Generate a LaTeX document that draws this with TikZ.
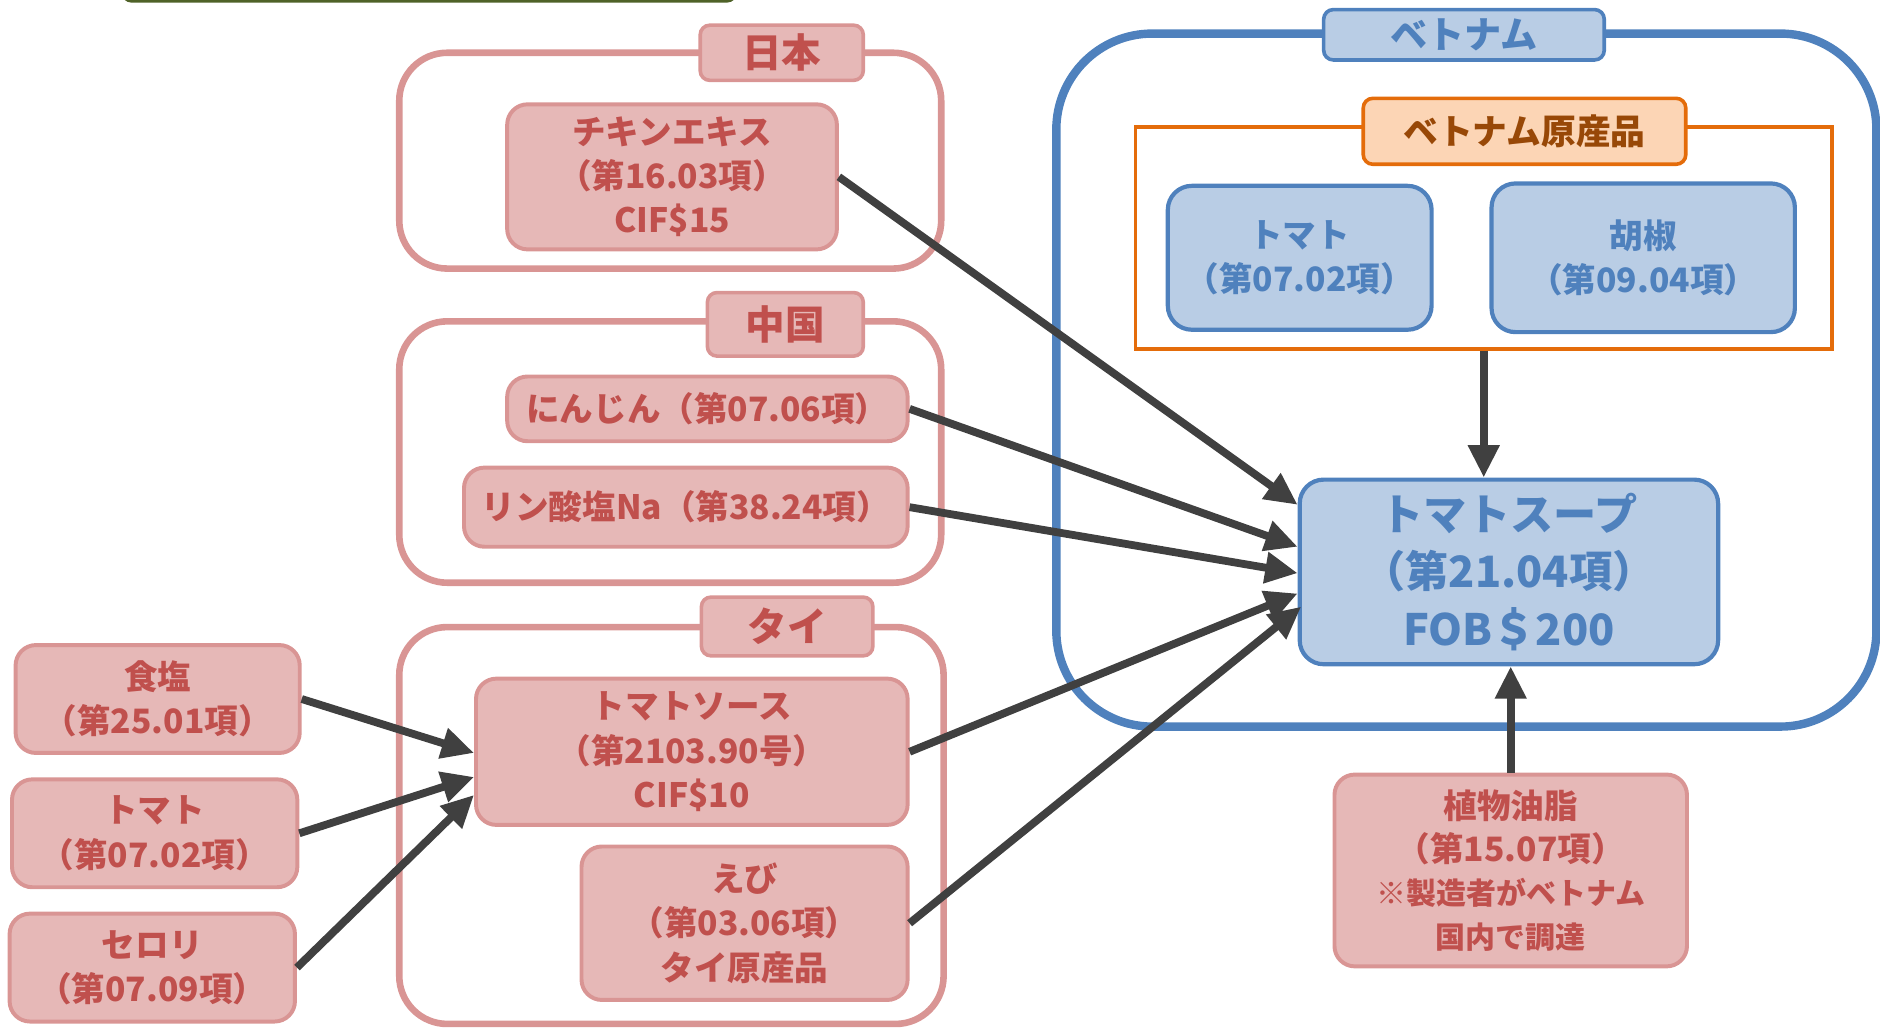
\documentclass[tikz,border=0pt]{standalone}
\usepackage{fontspec}
\setmainfont{Noto Sans CJK JP}
\usepackage{tikz}
\usepackage{xcolor}
\usetikzlibrary{
    arrows.meta,
    calc,
    positioning
}
\definecolor{pkln}{HTML}{D99594}
\definecolor{pkfl}{HTML}{E6B8B7}
\definecolor{pktx}{HTML}{C0504D}
\definecolor{blln}{HTML}{4F81BD}
\definecolor{blfl}{HTML}{B9CDE5}
\definecolor{orln}{HTML}{E46C0A}
\definecolor{orfl}{HTML}{FCD5B5}
\definecolor{ortx}{HTML}{984807}
\definecolor{grln}{HTML}{4F6228}
\definecolor{arln}{HTML}{404040}
\tikzset{
    pkbx/.style={draw=pkln, fill=pkfl, text=pktx, line width=3.3pt, rounded corners=17pt, align=center, inner sep=0pt, font=\bfseries\fontsize{28}{37}\selectfont},
    blbx/.style={draw=blln, fill=blfl, text=blln, line width=3.5pt, rounded corners=20pt, align=center, inner sep=0pt, font=\bfseries\fontsize{28}{37}\selectfont},
    pktg/.style={draw=pkln, fill=pkfl, text=pktx, line width=3pt, rounded corners=8pt, inner sep=0pt, font=\bfseries\fontsize{33}{36}\selectfont},
    bltg/.style={pktg, draw=blln, fill=blfl, text=blln, font=\bfseries\fontsize{31}{34}\selectfont},
    ortg/.style={pktg, draw=orln, fill=orfl, text=ortx, font=\bfseries\fontsize{29}{32}\selectfont},
    pkgrp/.style={draw=pkln, line width=5.5pt, rounded corners=40pt},
    arr/.style={draw=arln, line width=6.5pt, -{Triangle[length=27pt, width=25pt]}}
}

\begin{document}
\begin{tikzpicture}[x=1pt, y=1pt]
    \useasboundingbox (0, 0) rectangle (1568, -857);
    \draw[grln, line width=2.5pt, rounded corners=8pt] (102, 30) rectangle (614, -1);

    % groups
    \draw[pkgrp] (333, -44) rectangle (785, -224);
    \draw[pkgrp] (333, -268) rectangle (785, -486);
    \draw[pkgrp] (333, -523) rectangle (787, -854);
    \draw[blln, line width=7pt, rounded corners=80pt] (881, -28) rectangle (1565, -606);
    \node[draw=orln, line width=3pt, minimum width=581pt, minimum height=185pt] (orig) at (1237.5, -198.5) {};

    \node[pktg, minimum width=136pt, minimum height=46pt] (jp) at (652, -44) {日本};
    \node[pktg, minimum width=130pt, minimum height=53pt] (cn) at (655, -270.5) {中国};
    \node[pktg, minimum width=143pt, minimum height=49pt] (th) at (656.5, -522.5) {タイ};
    \node[bltg, minimum width=234pt, minimum height=42pt] (vn) at (1221, -29) {ベトナム};
    \node[ortg, minimum width=269pt, minimum height=55pt] (vnor) at (1271.5, -109.5) {ベトナム原産品};

    % items
    \node[pkbx, minimum width=275pt, minimum height=121pt] (chick) at (560.5, -147.5) {チキンエキス\\（第16.03項）\\CIF\$15};
    \node[pkbx, minimum width=334pt, minimum height=54pt] (carrot) at (590, -341) {にんじん（第07.06項）};
    \node[pkbx, minimum width=370pt, minimum height=66pt] (phos) at (572, -423) {リン酸塩Na（第38.24項）};
    \node[pkbx, minimum width=360pt, minimum height=122pt] (sauce) at (577, -627) {トマトソース\\（第2103.90号）\\CIF\$10};
    \node[pkbx, minimum width=272pt, minimum height=128pt] (shrimp) at (621, -770) {えび\\（第03.06項）\\タイ原産品};
    \node[pkbx, minimum width=237pt, minimum height=90pt] (salt) at (131.5, -583) {食塩\\（第25.01項）};
    \node[pkbx, minimum width=238pt, minimum height=90pt] (tomth) at (129, -695) {トマト\\（第07.02項）};
    \node[pkbx, minimum width=238pt, minimum height=90pt] (celery) at (127, -807) {セロリ\\（第07.09項）};
    \node[blbx, minimum width=220pt, minimum height=120pt] (tomvn) at (1084, -215) {トマト\\（第07.02項）};
    \node[blbx, minimum width=253pt, minimum height=124pt] (pepper) at (1370.5, -215) {胡椒\\（第09.04項）};
    \node[blbx, minimum width=349pt, minimum height=154pt, font=\bfseries\fontsize{36}{48}\selectfont] (soup) at (1258.5, -477) {トマトスープ\\（第21.04項）\\FOB＄200};
    \node[pkbx, minimum width=294pt, minimum height=160pt, font=\bfseries\fontsize{28}{36}\selectfont] (oil) at (1260, -726) {植物油脂\\（第15.07項）\\{\fontsize{25}{35}\selectfont ※製造者がベトナム}\\{\fontsize{25}{35}\selectfont 国内で調達}};

    % flows
    \draw[arr] (chick.east) -- ($(soup.west) + (0, 56)$);
    \draw[arr] (carrot.east) -- ($(soup.west) + (0, 21)$);
    \draw[arr] (phos.east) -- ($(soup.west) + (0, -1)$);
    \draw[arr] (sauce.east) -- ($(soup.west) + (0, -18)$);
    \draw[arr] (shrimp.east) -- ($(soup.west) + (3, -29)$);
    \draw[arr] (orig.south) -- (orig.south |- soup.north);
    \draw[arr] (oil.north) -- (oil.north |- soup.south);
    \draw[arr] (salt.east) -- ($(sauce.west) + (0, -1)$);
    \draw[arr] (tomth.east) -- ($(sauce.west) + (0, -21)$);
    \draw[arr] (celery.east) -- ($(sauce.west) + (0, -36)$);
\end{tikzpicture}
\end{document}
